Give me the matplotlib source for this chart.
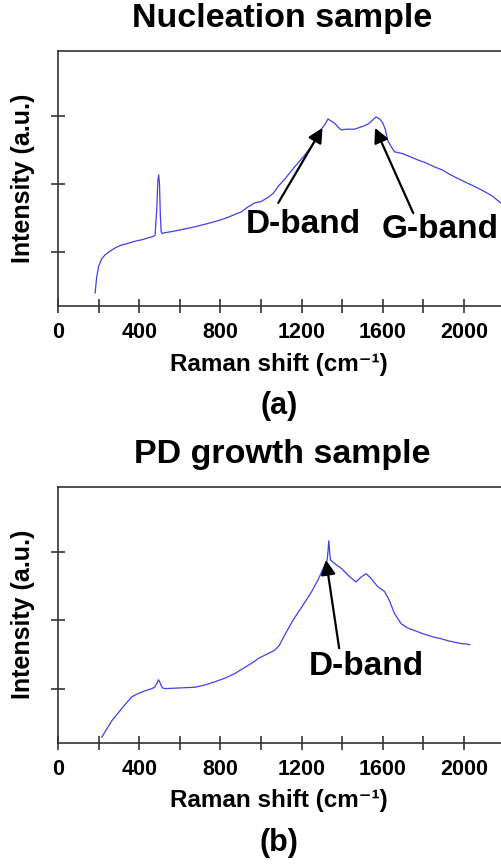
import matplotlib
matplotlib.use("Agg")
import matplotlib.pyplot as plt

# panel (a): nucleation sample
shift_a = [183, 190, 200, 215, 232, 255, 281, 310, 347, 380, 413, 445, 470, 478,
           486, 492, 496, 500, 504, 508, 513, 519, 560, 610, 674, 740, 800, 838,
           870, 904, 935, 969, 1000, 1035, 1060, 1084, 1120, 1166, 1210, 1248,
           1275, 1297, 1315, 1330, 1345, 1362, 1380, 1395, 1420, 1460, 1490,
           1509, 1530, 1542, 1555, 1567, 1585, 1600, 1612, 1624, 1640, 1657,
           1700, 1772, 1810, 1853, 1895, 1935, 1975, 2017, 2060, 2099, 2140, 2181]
inten_a = [0.40, 0.62, 0.79, 0.90, 0.96, 1.01, 1.06, 1.10, 1.13, 1.16, 1.18, 1.21,
           1.23, 1.25, 1.60, 2.05, 2.13, 2.00, 1.55, 1.30, 1.27, 1.28, 1.30, 1.33,
           1.37, 1.42, 1.47, 1.51, 1.55, 1.59, 1.66, 1.72, 1.74, 1.80, 1.86, 1.96,
           2.08, 2.25, 2.40, 2.55, 2.68, 2.80, 2.87, 2.95, 2.92, 2.89, 2.83, 2.79,
           2.80, 2.80, 2.83, 2.85, 2.88, 2.91, 2.95, 2.98, 2.95, 2.89, 2.80, 2.64,
           2.55, 2.47, 2.44, 2.35, 2.31, 2.25, 2.20, 2.13, 2.07, 2.01, 1.95, 1.89,
           1.82, 1.72]

# panel (b): PD growth sample
shift_b = [216, 240, 265, 290, 314, 340, 363, 390, 413, 440, 462, 476, 486, 495,
           501, 507, 515, 527, 600, 674, 720, 773, 820, 871, 920, 969, 986, 1020,
           1067, 1090, 1116, 1158, 1180, 1207, 1248, 1281, 1310, 1326, 1330,
           1334, 1338, 1342, 1370, 1395, 1428, 1450, 1469, 1493, 1518, 1542,
           1575, 1608, 1620, 1632, 1657, 1690, 1720, 1755, 1790, 1821, 1855,
           1886, 1920, 1951, 1985, 2017, 2028]
inten_b = [0.29, 0.41, 0.53, 0.62, 0.71, 0.80, 0.88, 0.92, 0.95, 0.98, 1.00, 1.02,
           1.07, 1.13, 1.10, 1.05, 1.01, 1.00, 1.01, 1.02, 1.05, 1.10, 1.15, 1.22,
           1.31, 1.40, 1.44, 1.49, 1.56, 1.63, 1.78, 2.00, 2.10, 2.22, 2.41, 2.59,
           2.78, 2.88, 3.00, 3.16, 3.00, 2.88, 2.81, 2.76, 2.66, 2.60, 2.56, 2.63,
           2.68, 2.61, 2.49, 2.42, 2.36, 2.29, 2.10, 1.95, 1.89, 1.85, 1.81, 1.78,
           1.75, 1.73, 1.70, 1.68, 1.66, 1.65, 1.64]

panels = [
    dict(x=shift_a, y=inten_a, title="Nucleation sample", tag="(a)", top=50.7,
         bottom=306,
         bands=[("D-band", (1303, 2.82), (1085, 1.72), (1208, 1.40), "center"),
                ("G-band", (1562, 2.82), (1750, 1.57), (1595, 1.33), "left")]),
    dict(x=shift_b, y=inten_b, title="PD growth sample", tag="(b)", top=486.7,
         bottom=742.7,
         bands=[("D-band", (1320, 2.88), (1385, 1.59), (1520, 1.32), "center")]),
]

W, H = 501, 866
plt.rcParams["font.family"] = ["Liberation Sans", "DejaVu Sans"]
plt.rcParams["font.weight"] = "bold"
fig = plt.figure(figsize=(W / 100, H / 100), dpi=100)

left_px, px_per_unit, xmax = 58, 0.203, 2300
line_col = "#4040ec"
spine_col = "#333333"

for p in panels:
    ax = fig.add_axes([left_px / W, 1 - p["bottom"] / H,
                       xmax * px_per_unit / W, (p["bottom"] - p["top"]) / H])
    ax.plot(p["x"], p["y"], color=line_col, lw=0.9)
    ax.set_xlim(0, xmax)
    ax.set_ylim(0.21, 3.95)
    ax.set_xticks(range(0, 2201, 400))
    ax.set_xticks(range(200, 2201, 400), minor=True)
    ax.set_yticks([1, 2, 3])
    ax.set_yticklabels([])
    ax.tick_params(axis="both", which="both", direction="inout", length=10,
                   width=1.2, color=spine_col, labelsize=15.5, pad=6.5)
    for lab in ax.get_xticklabels():
        lab.set_fontweight("bold")
    for s in ax.spines.values():
        s.set_color(spine_col)
        s.set_linewidth(1.2)

    for name, head, tail, txt, ha in p["bands"]:
        ax.annotate("", xy=head, xytext=tail,
                    arrowprops=dict(arrowstyle="-|>", color="black", lw=1.6,
                                    mutation_scale=22, shrinkA=0, shrinkB=0))
        ax.text(txt[0], txt[1], name, ha=ha, va="center", fontsize=24,
                fontweight="bold")

    # titles, axis labels and panel tags
    fig.text(282 / W, 1 - (p["top"] - 32) / H, p["title"], ha="center",
             va="center", fontsize=24.5, fontweight="bold")
    fig.text(279 / W, 1 - (p["bottom"] + 58) / H, "Raman shift (cm\u207b\u00b9)",
             ha="center", va="center", fontsize=17.5, fontweight="bold")
    fig.text(23 / W, 1 - (p["top"] + p["bottom"]) / 2 / H, "Intensity (a.u.)",
             rotation=90, ha="center", va="center", fontsize=18,
             fontweight="bold")
    fig.text(279 / W, 1 - (p["bottom"] + 100) / H, p["tag"], ha="center",
             va="center", fontsize=22, fontweight="bold")

fig.savefig("out.png", dpi=100, facecolor="white")
